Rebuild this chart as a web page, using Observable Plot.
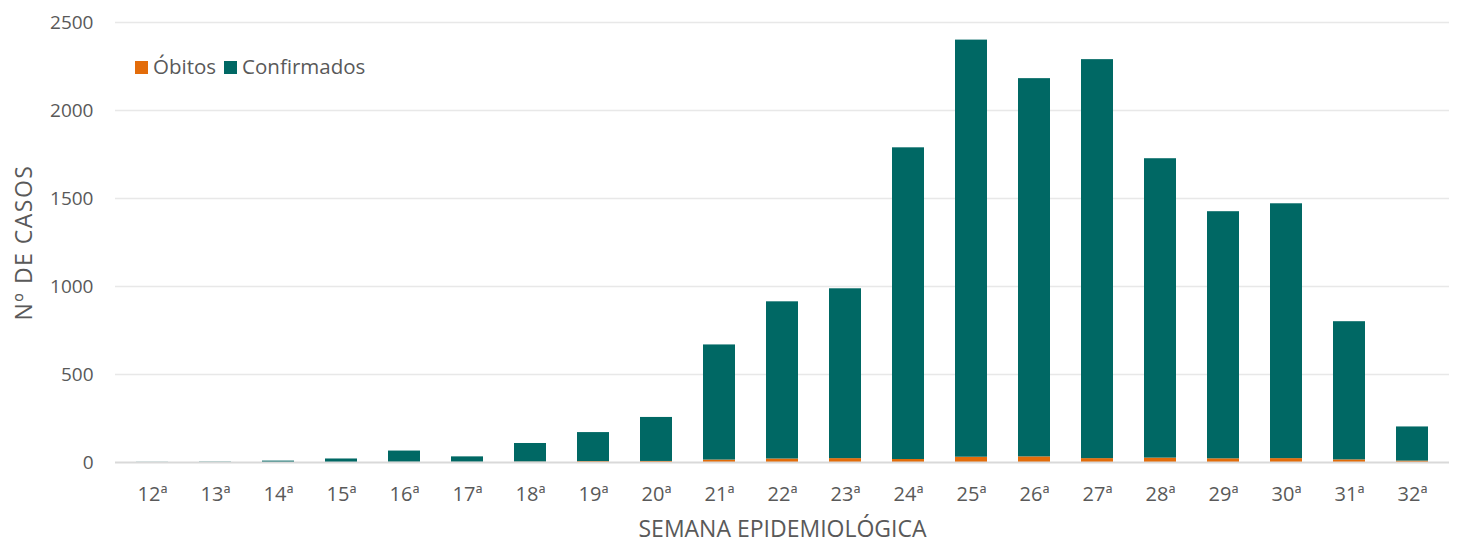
<!DOCTYPE html>
<html>
<head>
<meta charset="utf-8">
<script src="https://cdn.jsdelivr.net/npm/d3@7"></script>
<script src="https://cdn.jsdelivr.net/npm/@observablehq/plot@0.6"></script>
<style>
  body { margin: 0; background: #fff; font-family: "Open Sans", "Liberation Sans", sans-serif; }
  #wrap { position: relative; width: 1463px; height: 542px; }
  #legend { position: absolute; left: 135px; top: 52px; font-size: 20.5px; color: #595959; display: flex; align-items: center; gap: 8px; }
  .sw { display: inline-block; width: 13px; height: 13px; margin-right: 5px; vertical-align: middle; position: relative; top: -1px; }
  g[aria-label="x-axis label"] text { font-size: 23px; }
  g[aria-label="y-axis label"] text { font-size: 23px; letter-spacing: 1.5px; }
  g[aria-label="x-axis tick label"] text { font-size: 20px; }
</style>
</head>
<body>
<div id="wrap">
  <div id="chart"></div>
  <div id="legend">
    <span><span class="sw" style="background:#e36c0a"></span>Óbitos</span>
    <span><span class="sw" style="background:#006864"></span>Confirmados</span>
  </div>
</div>
<script>
const semanas = ["12ª","13ª","14ª","15ª","16ª","17ª","18ª","19ª","20ª","21ª","22ª","23ª","24ª","25ª","26ª","27ª","28ª","29ª","30ª","31ª","32ª"];
const obitos = [0,0,0,0,1,1,2,5,6,14,20,22,17,30,32,22,25,21,22,15,8];
const confirmados = [1,2,8,20,64,31,106,165,250,654,893,965,1771,2370,2149,2267,1701,1404,1448,785,194];
const yTicks = [0,500,1000,1500,2000,2500];
const series = ["Óbitos","Confirmados"];
const cores = ["#e36c0a","#006864"];

const rows = [];
semanas.forEach((s, i) => {
  rows.push({semana: s, serie: series[0], valor: obitos[i]});
  rows.push({semana: s, serie: series[1], valor: confirmados[i]});
});

const chart = Plot.plot({
  width: 1463,
  height: 542,
  marginLeft: 115,
  marginRight: 14,
  marginTop: 22,
  marginBottom: 80,
  style: {fontFamily: "'Open Sans', 'Liberation Sans', sans-serif", fontSize: "19px", color: "#595959", background: "#fff"},
  x: {domain: semanas, paddingInner: 0.5, paddingOuter: 0.25, label: "SEMANA EPIDEMIOLÓGICA", labelAnchor: "center", labelOffset: 74, tickSize: 0, tickPadding: 24},
  y: {domain: [0, 2500], ticks: yTicks, tickFormat: d => String(d), label: "Nº DE CASOS", labelAnchor: "center", labelArrow: "none", labelOffset: 100, tickSize: 0, tickPadding: 22},
  color: {domain: series, range: cores},
  marks: [
    Plot.gridY(yTicks.slice(1), {stroke: "#e8e8e8", strokeOpacity: 1, strokeWidth: 1.5}),
    Plot.barY(rows, Plot.stackY({x: "semana", y: "valor", fill: "serie", order: series})),
    Plot.ruleY([0], {stroke: "#d9d9d9", strokeWidth: 2})
  ]
});
chart.querySelectorAll("text").forEach(t => t.setAttribute("fill", "#595959"));
document.getElementById("chart").appendChild(chart);
</script>
</body>
</html>
